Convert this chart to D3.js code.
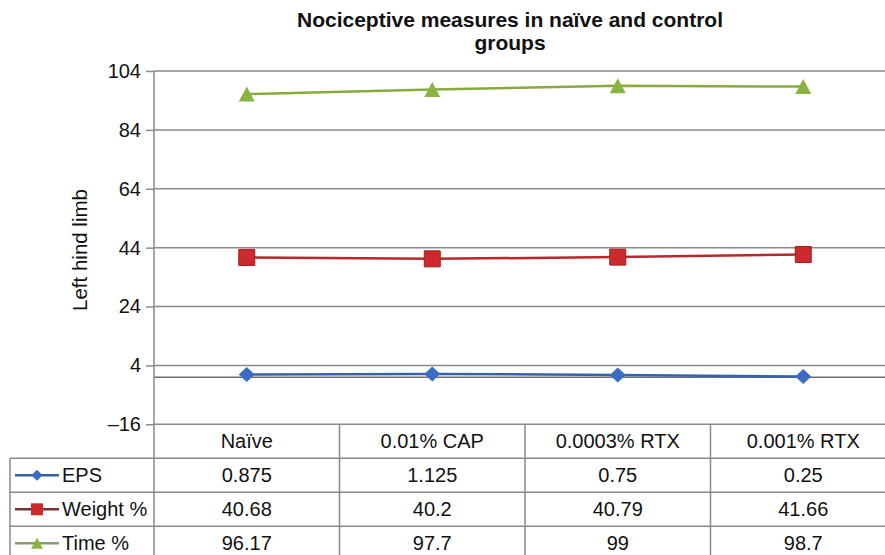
<!DOCTYPE html>
<html><head><meta charset="utf-8">
<script src="https://cdn.jsdelivr.net/npm/d3@7"></script>
<style>
html,body{margin:0;padding:0;background:#fff;}
svg{display:block;font-family:"Liberation Sans",Arial,sans-serif;}
</style></head>
<body>
<svg id="chart" width="885" height="555"></svg>
<script>
const categories = ["Naïve", "0.01% CAP", "0.0003% RTX", "0.001% RTX"];
const seriesNames = ["EPS", "Weight %", "Time %"];
const epsValues = [0.875, 1.125, 0.75, 0.25];
const weightValues = [40.68, 40.2, 40.79, 41.66];
const timeValues = [96.17, 97.7, 99, 98.7];
const tickValues = [-16, 4, 24, 44, 64, 84, 104];

const series = [
  {name: seriesNames[0], values: epsValues, line: "#3561b3", fill: "#3a6cc2", legendLine: "#3a5f9c", marker: "diamond"},
  {name: seriesNames[1], values: weightValues, line: "#b8282d", fill: "#cc2a2c", legendLine: "#6e3434", marker: "square"},
  {name: seriesNames[2], values: timeValues, line: "#87ab3c", fill: "#8ab440", legendLine: "#8a9c70", marker: "triangle"}
];

const svg = d3.select("#chart");
const W = 885;
const plotLeft = 154, plotRight = 896, plotTop = 71, plotBottom = 424.3;
const rowH = 34;
const gridColor = "#8a8a8a";

const x = d3.scaleBand().domain(categories).range([plotLeft, plotRight]).paddingInner(0).paddingOuter(0);
const y = d3.scaleLinear().domain([-16, 104]).range([plotBottom, plotTop]);

// Title
const title = svg.append("text").attr("text-anchor", "middle")
  .attr("font-size", 21).attr("font-weight", "bold").attr("fill", "#111");
title.append("tspan").attr("x", 510).attr("y", 27).text("Nociceptive measures in naïve and control");
title.append("tspan").attr("x", 510).attr("y", 50).text("groups");

// Gridlines
svg.append("g").selectAll("line").data(tickValues).join("line")
  .attr("x1", plotLeft).attr("x2", W)
  .attr("y1", d => y(d)).attr("y2", d => y(d))
  .attr("stroke", gridColor).attr("stroke-width", 1.5);

// Zero (category) axis line
svg.append("line").attr("x1", plotLeft).attr("x2", W)
  .attr("y1", y(0)).attr("y2", y(0))
  .attr("stroke", "#6e6e6e").attr("stroke-width", 1.5);

// Y axis
const yAxis = d3.axisLeft(y).tickValues(tickValues).tickSize(8).tickPadding(5)
  .tickFormat(d => d < 0 ? "\u2013" + Math.abs(d) : d);
const yg = svg.append("g").attr("transform", `translate(${plotLeft},0)`).call(yAxis);
yg.select(".domain").remove();
yg.selectAll(".tick line").attr("stroke", gridColor).attr("stroke-width", 1.5);
yg.selectAll(".tick text").attr("font-size", 20).attr("fill", "#111")
  .attr("font-family", '"Liberation Sans",Arial,sans-serif');

// Axis title
svg.append("text").attr("transform", `translate(87,250) rotate(-90)`)
  .attr("text-anchor", "middle").attr("font-size", 20.5).attr("fill", "#111")
  .text("Left hind limb");

// Data table
const tableTop = plotBottom;
const tbl = svg.append("g");
tbl.append("line").attr("x1", plotLeft).attr("x2", plotLeft).attr("y1", plotTop).attr("y2", 555)
  .attr("stroke", gridColor).attr("stroke-width", 1.5);
tbl.selectAll("line.col").data(categories.slice(1)).join("line").attr("class", "col")
  .attr("x1", d => x(d)).attr("x2", d => x(d))
  .attr("y1", tableTop).attr("y2", 555)
  .attr("stroke", gridColor).attr("stroke-width", 1.5);
tbl.append("line").attr("x1", 10).attr("x2", 10).attr("y1", tableTop + rowH).attr("y2", 555)
  .attr("stroke", gridColor).attr("stroke-width", 1.5);
tbl.selectAll("line.row").data(d3.range(1, 4)).join("line").attr("class", "row")
  .attr("x1", 10).attr("x2", W)
  .attr("y1", i => tableTop + i * rowH).attr("y2", i => tableTop + i * rowH)
  .attr("stroke", gridColor).attr("stroke-width", 1.5);
tbl.selectAll("text.hdr").data(categories).join("text").attr("class", "hdr")
  .attr("x", d => x(d) + x.bandwidth() / 2).attr("y", tableTop + rowH / 2 + 7)
  .attr("text-anchor", "middle").attr("font-size", 20).attr("fill", "#111").text(d => d);

// marker shape: w = width, h = height
function markerPath(type, w, h) {
  const p = d3.path();
  if (type === "diamond") {
    p.moveTo(0, -h / 2); p.lineTo(w / 2, 0); p.lineTo(0, h / 2); p.lineTo(-w / 2, 0); p.closePath();
  } else if (type === "square") {
    p.rect(-w / 2, -h / 2, w, h);
  } else {
    p.moveTo(0, -h / 2); p.lineTo(w / 2, h / 2); p.lineTo(-w / 2, h / 2); p.closePath();
  }
  return p.toString();
}
const plotSize = {diamond: [16, 15], square: [16, 16], triangle: [16, 15]};
const keySize = {diamond: [11, 11], square: [12, 12], triangle: [12, 11]};

series.forEach((s, si) => {
  const rowY = tableTop + (si + 1) * rowH;
  const cy = rowY + rowH / 2;
  tbl.append("line").attr("x1", 15).attr("x2", 59).attr("y1", cy).attr("y2", cy)
    .attr("stroke", s.legendLine).attr("stroke-width", 2.5);
  tbl.append("path").attr("d", markerPath(s.marker, ...keySize[s.marker]))
    .attr("transform", `translate(37,${cy})`).attr("fill", s.fill);
  tbl.append("text").attr("x", 62).attr("y", cy + 7).attr("font-size", 20).attr("fill", "#111").text(s.name);
  tbl.selectAll(null).data(s.values).join("text")
    .attr("x", (d, i) => x(categories[i]) + x.bandwidth() / 2).attr("y", cy + 7)
    .attr("text-anchor", "middle").attr("font-size", 20).attr("fill", "#111").text(d => d);

  const line = d3.line().x((d, i) => x(categories[i]) + x.bandwidth() / 2).y(d => y(d));
  svg.append("path").datum(s.values).attr("d", line).attr("fill", "none")
    .attr("stroke", s.line).attr("stroke-width", 2.5);
  svg.append("g").selectAll("path").data(s.values).join("path")
    .attr("d", markerPath(s.marker, ...plotSize[s.marker]))
    .attr("transform", (d, i) => `translate(${x(categories[i]) + x.bandwidth() / 2},${y(d)})`)
    .attr("fill", s.fill)
    .attr("stroke", s.marker === "square" ? "#a01e22" : "none").attr("stroke-width", 1);
});
</script>
</body></html>
